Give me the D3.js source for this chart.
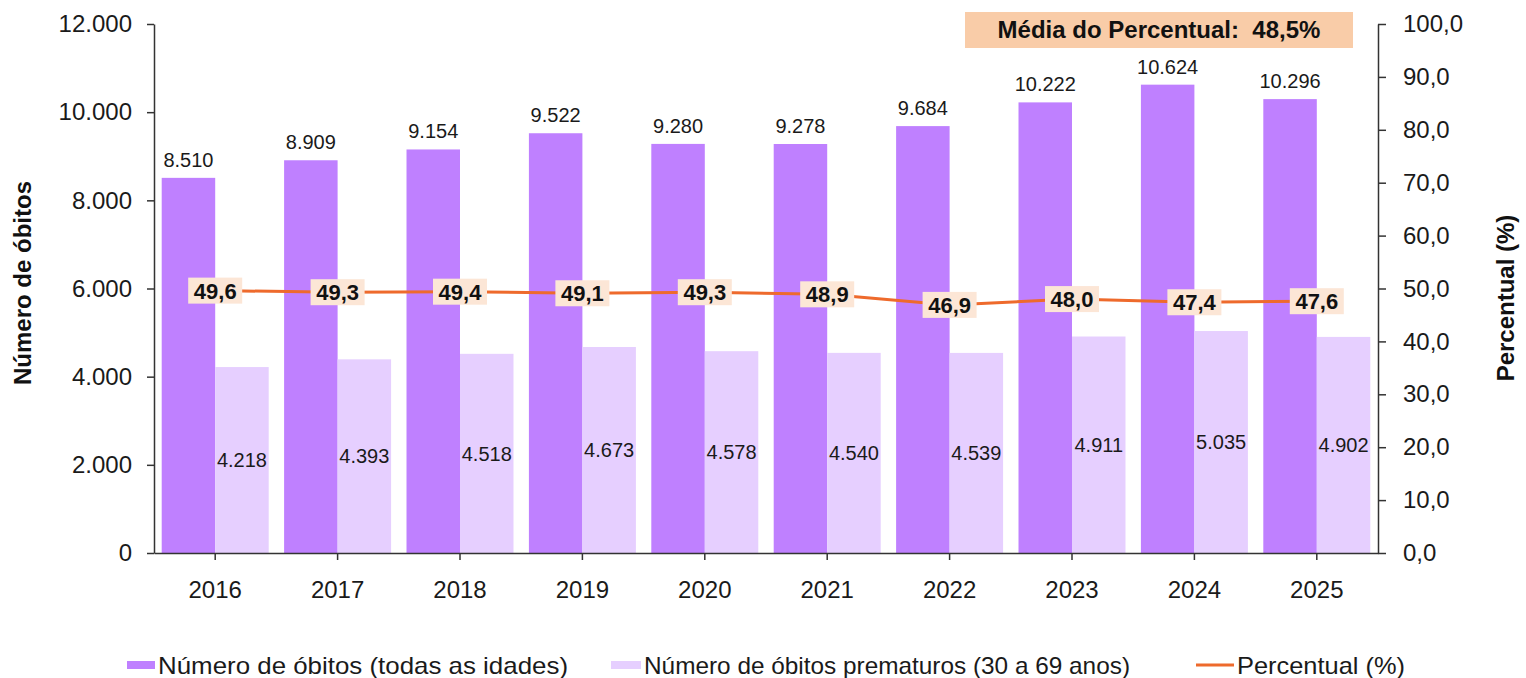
<!DOCTYPE html>
<html>
<head>
<meta charset="utf-8">
<script src="https://cdn.jsdelivr.net/npm/d3@7"></script>
<style>
  html, body { margin: 0; padding: 0; background: #fff; }
  svg { display: block; font-family: "Liberation Sans", Arial, sans-serif; }
</style>
</head>
<body>
<svg id="chart" width="1526" height="678"></svg>
<script>
// ---- Data ----
const years = ["2016", "2017", "2018", "2019", "2020", "2021", "2022", "2023", "2024", "2025"];
const totalDeaths = [8510, 8909, 9154, 9522, 9280, 9278, 9684, 10222, 10624, 10296];
const prematureDeaths = [4218, 4393, 4518, 4673, 4578, 4540, 4539, 4911, 5035, 4902];
const percentages = [49.6, 49.3, 49.4, 49.1, 49.3, 48.9, 46.9, 48.0, 47.4, 47.6];
const leftTicks = [0, 2000, 4000, 6000, 8000, 10000, 12000];
const rightTicks = [0, 10, 20, 30, 40, 50, 60, 70, 80, 90, 100];
const meanPercent = 48.5;
const seriesNames = ["Número de óbitos (todas as idades)", "Número de óbitos prematuros (30 a 69 anos)", "Percentual (%)"];

(function () {
// ---- Style ----
const cTotal = "#bf80ff";
const cPremature = "#e6cfff";
const cLine = "#ee6a2c";
const cLabelBox = "#fce6d6";
const cTitleBox = "#f9cca8";
const cAxis = "#333";
const cText = "#1a1a1a";

const loc = d3.formatLocale({decimal: ",", thousands: ".", grouping: [3], currency: ["R$", ""]});
const fInt = loc.format(",d");
const fPct = loc.format(".1f");

const svg = d3.select("#chart");
const pLeft = 154, pRight = 1378, pTop = 24, pBottom = 553;

const x = d3.scaleBand().domain(years).range([pLeft, pRight]).paddingInner(0).paddingOuter(0);
const xs = d3.scaleBand().domain(["total", "premature"]).range([0, x.bandwidth()]).paddingInner(0).paddingOuter(0.144);
const yL = d3.scaleLinear().domain([0, 12000]).range([pBottom, pTop]);
const yR = d3.scaleLinear().domain([0, 100]).range([pBottom, pTop]);

const data = years.map((y, i) => ({year: y, total: totalDeaths[i], prem: prematureDeaths[i], pct: percentages[i]}));

// ---- Bars ----
const g = svg.append("g");
g.selectAll("rect.total").data(data).join("rect").attr("class", "total")
  .attr("x", d => x(d.year) + xs("total")).attr("width", xs.bandwidth())
  .attr("y", d => yL(d.total)).attr("height", d => yL(0) - yL(d.total))
  .attr("fill", cTotal);
g.selectAll("rect.prem").data(data).join("rect").attr("class", "prem")
  .attr("x", d => x(d.year) + xs("premature")).attr("width", xs.bandwidth())
  .attr("y", d => yL(d.prem)).attr("height", d => yL(0) - yL(d.prem))
  .attr("fill", cPremature);

// bar labels
g.selectAll("text.total").data(data).join("text").attr("class", "total")
  .attr("x", d => x(d.year) + xs("total") + xs.bandwidth() / 2)
  .attr("y", d => yL(d.total) - 11)
  .attr("text-anchor", "middle").attr("font-size", 20).attr("fill", cText)
  .text(d => fInt(d.total));
g.selectAll("text.prem").data(data).join("text").attr("class", "prem")
  .attr("x", d => x(d.year) + xs("premature") + xs.bandwidth() / 2)
  .attr("y", d => (yL(d.prem) + yL(0)) / 2)
  .attr("dy", "0.36em")
  .attr("text-anchor", "middle").attr("font-size", 20).attr("fill", cText)
  .text(d => fInt(d.prem));

// ---- Axes ----
const axL = svg.append("g").attr("transform", `translate(${pLeft},0)`)
  .call(d3.axisLeft(yL).tickValues(leftTicks).tickFormat(fInt).tickSize(7).tickSizeOuter(0).tickPadding(15));
const axR = svg.append("g").attr("transform", `translate(${pRight},0)`)
  .call(d3.axisRight(yR).tickValues(rightTicks).tickFormat(fPct).tickSize(8).tickSizeOuter(0).tickPadding(17));
const axB = svg.append("g").attr("transform", `translate(0,${pBottom})`)
  .call(d3.axisBottom(x).tickSize(7).tickSizeOuter(0).tickPadding(21));
[axL, axR, axB].forEach(a => {
  a.selectAll("path, line").attr("stroke", cAxis).attr("stroke-width", 1.5);
  a.selectAll("text").attr("font-size", 24).attr("fill", cText)
    .attr("font-family", '"Liberation Sans", Arial, sans-serif');
});

// ---- Line ----
const line = d3.line().x(d => x(d.year) + x.bandwidth() / 2).y(d => yR(d.pct));
svg.append("path").datum(data).attr("d", line)
  .attr("fill", "none").attr("stroke", cLine).attr("stroke-width", 3);

const pl = svg.append("g").selectAll("g").data(data).join("g")
  .attr("transform", d => `translate(${x(d.year) + x.bandwidth() / 2},${yR(d.pct)})`);
pl.append("rect").attr("x", -27).attr("y", -13).attr("width", 54).attr("height", 26).attr("fill", cLabelBox);
pl.append("text").attr("text-anchor", "middle").attr("dy", "0.36em")
  .attr("font-size", 22).attr("font-weight", "bold").attr("fill", "#111")
  .text(d => fPct(d.pct));

// ---- Mean box ----
svg.append("rect").attr("x", 965).attr("y", 12).attr("width", 388).attr("height", 36).attr("fill", cTitleBox);
svg.append("text").attr("x", 1159).attr("y", 38).attr("text-anchor", "middle")
  .attr("font-size", 24).attr("font-weight", "bold").attr("fill", "#111")
  .attr("xml:space", "preserve")
  .text("Média do Percentual:  " + fPct(meanPercent) + "%");

// ---- Axis titles ----
svg.append("text").attr("transform", "translate(31,283) rotate(-90)")
  .attr("text-anchor", "middle").attr("font-size", 24).attr("font-weight", "bold").attr("fill", "#111")
  .text("Número de óbitos");
svg.append("text").attr("transform", "translate(1514,298) rotate(-90)")
  .attr("text-anchor", "middle").attr("font-size", 24).attr("font-weight", "bold").attr("fill", "#111")
  .text("Percentual (%)");

// ---- Legend ----
const leg = svg.append("g");
const legY = 665;
leg.append("rect").attr("x", 127).attr("y", legY - 4).attr("width", 28).attr("height", 8).attr("fill", cTotal);
leg.append("text").attr("x", 158).attr("y", legY + 9).attr("font-size", 24).attr("fill", cText)
  .attr("textLength", 410).attr("lengthAdjust", "spacingAndGlyphs").text(seriesNames[0]);
leg.append("rect").attr("x", 611).attr("y", legY - 4).attr("width", 30).attr("height", 8).attr("fill", cPremature);
leg.append("text").attr("x", 644).attr("y", legY + 9).attr("font-size", 24).attr("fill", cText)
  .attr("textLength", 486).attr("lengthAdjust", "spacingAndGlyphs").text(seriesNames[1]);
leg.append("line").attr("x1", 1196).attr("x2", 1234).attr("y1", legY).attr("y2", legY)
  .attr("stroke", cLine).attr("stroke-width", 3);
leg.append("text").attr("x", 1237).attr("y", legY + 9).attr("font-size", 24).attr("fill", cText)
  .attr("textLength", 168).attr("lengthAdjust", "spacingAndGlyphs").text(seriesNames[2]);
})();
</script>
</body>
</html>
